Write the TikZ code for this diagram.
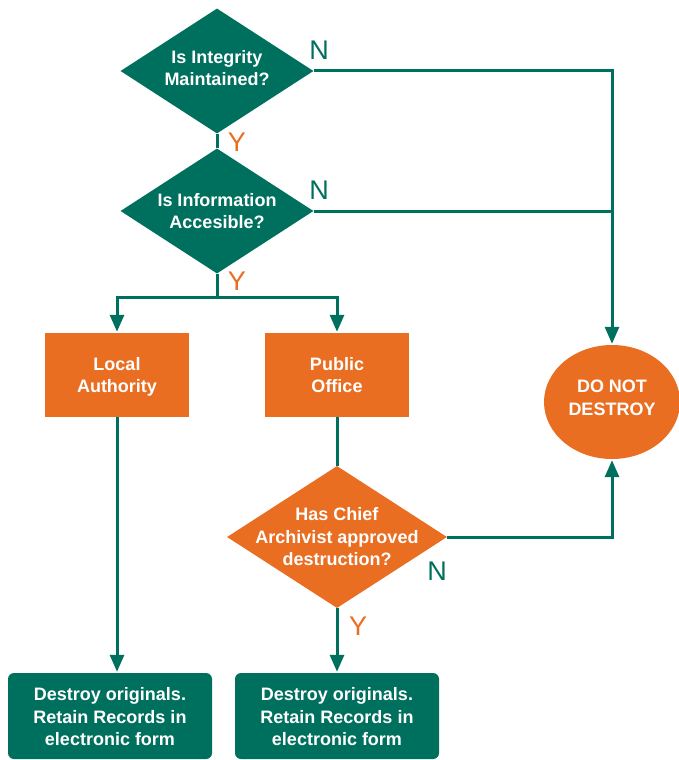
\documentclass[tikz,border=0pt]{standalone}
\usepackage{fontspec}
\setmainfont{Liberation Sans}
\usetikzlibrary{shapes.geometric,arrows.meta}
\definecolor{dgreen}{RGB}{0,112,94}
\definecolor{dorange}{RGB}{233,110,34}
\begin{document}
\begin{tikzpicture}[x=1pt,y=-1pt,
  dia/.style={diamond, fill=#1, minimum width=193pt, minimum height=125pt, inner sep=0pt},
  txt/.style={text=white, font=\bfseries\fontsize{18}{22.5}\selectfont, align=center},
  obox/.style={fill=dorange, minimum width=144pt, minimum height=84pt, inner sep=0pt},
  gbox/.style={fill=dgreen, rounded corners=6pt, minimum width=204pt, minimum height=86pt, inner sep=0pt},
  conn/.style={draw=dgreen, line width=3pt},
  arr/.style={conn, -{Triangle[length=17pt,width=14pt]}, shorten >=1pt},
  nlab/.style={text=dgreen, font=\fontsize{27}{27}\selectfont, inner sep=0pt},
  ylab/.style={text=dorange, font=\fontsize{27}{27}\selectfont, inner sep=0pt}
]
\useasboundingbox (0,0) rectangle (678,760);
% nodes
\node[dia=dgreen] (d1) at (217,71) {};
\node[txt] (t1) at ([yshift=3pt]d1.center) {Is Integrity\\Maintained?};
\node[dia=dgreen] (d2) at (217,211) {};
\node[txt] (t2) at (d2.center) {Is Information\\Accesible?};
\node[obox] (la) at (117,375) {};
\node[txt] (tla) at ([yshift=-2pt]la.center) {Local\\Authority};
\node[obox] (po) at (337,375) {};
\node[txt] (tpo) at (po.center) {Public\\Office};
\node[ellipse, fill=dorange, minimum width=136pt, minimum height=114pt, inner sep=0pt] (dnd) at (612,402) {};
\node[txt] (tdnd) at ([yshift=4pt]dnd.center) {DO NOT\\DESTROY};
\node[diamond, fill=dorange, minimum width=220pt, minimum height=142pt, inner sep=0pt] (d3) at (337,537) {};
\node[txt] (t3) at (d3.center) {Has Chief\\Archivist approved\\destruction?};
\node[gbox] (g1) at (110,716) {};
\node[txt] (tg1) at ([yshift=-1pt]g1.center) {Destroy originals.\\Retain Records in\\electronic form};
\node[gbox] (g2) at (337,716) {};
\node[txt] (tg2) at ([yshift=-1pt]g2.center) {Destroy originals.\\Retain Records in\\electronic form};
% connectors
\draw[conn] (d1.south) -- (d2.north);
\draw[arr] (d1.east) -| (dnd.north);
\draw[conn] (d2.east) -- (d2.east -| dnd.north);
\coordinate (split) at (217,297);
\draw[conn] (d2.south) -- (split);
\draw[arr] (split) -| (la.north);
\draw[arr] (split) -| (po.north);
\draw[conn] (po.south) -- (d3.north);
\draw[arr] (la.south) -- (la.south |- g1.north);
\draw[arr] (d3.east) -| (dnd.south);
\draw[arr] (d3.south) -- (g2.north);
% labels
\node[nlab] (n1) at (319,50) {N};
\node[ylab] (y1) at (237,142) {Y};
\node[nlab] (n2) at (319,190) {N};
\node[ylab] (y2) at (237,281) {Y};
\node[nlab] (n3) at (437,571) {N};
\node[ylab] (y3) at (358,626) {Y};
\end{tikzpicture}
\end{document}
